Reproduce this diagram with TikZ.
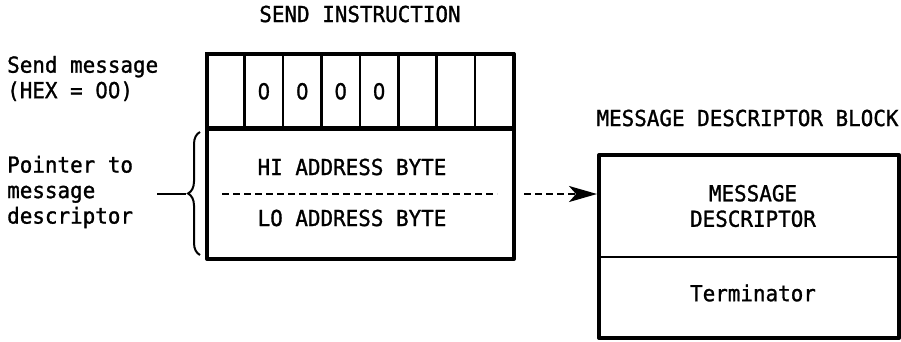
\documentclass[tikz,border=0pt]{standalone}
\usepackage{fontspec}
\newfontfamily\dfont[FakeStretch=0.95,FakeBold=1.2]{DejaVu Sans Mono}
% plain (undotted) zero for the digit fields
\newfontfamily\zfont[FakeStretch=0.9,FakeBold=1.2]{DejaVu Sans}
\newcommand{\zro}{{\zfont 0}}
\usetikzlibrary{arrows.meta,decorations.pathreplacing}
\begin{document}
\begin{tikzpicture}[x=1pt,y=-1pt,
  lbl/.style={font=\dfont\fontsize{22}{25.5}\selectfont, inner sep=0pt},
  heavy/.style={draw, line width=4pt, line join=round},
  thin/.style={draw, line width=2.2pt},
  cellbox/.style={draw, line width=2.6pt, minimum width=38.4pt, minimum height=76pt,
    anchor=north west, inner sep=0pt, font=\dfont\fontsize{22}{25.5}\selectfont}]
\useasboundingbox (0,0) rectangle (901,341);

% --- send instruction word ---
\node[lbl] (title1) at (360,14) {SEND INSTRUCTION};
% op-code bit cells
\foreach \i/\t in {0/,1/\zro,2/\zro,3/\zro,4/\zro,5/,6/,7/} {
  \node[cellbox] (bit\i) at ({205+38.4*\i},52) {\t};
}
\draw[line width=3.4pt] (205,128) -- (512,128);
% pointer bytes
\node[lbl] (hi) at (352,167) {HI ADDRESS BYTE};
\node[lbl] (lo) at (352,218) {LO ADDRESS BYTE};
\coordinate (split) at (222,194);
\coordinate (splitend) at (497,194);
\draw[line width=2pt, dash pattern=on 7pt off 4pt] (split) -- (splitend);
\node[heavy, minimum width=307pt, minimum height=205pt, anchor=north west, inner sep=0pt] (instr) at (205,52) {};

% --- labels on the left ---
\node[lbl, align=left, anchor=west] (sendmsg) at (7,78.5) {Send message\\(HEX = \zro\zro)};
\node[lbl, align=left, anchor=west] (ptr) at (7,192) {Pointer to\\message\\descriptor};
\draw[line width=2pt, decorate, decoration={brace, amplitude=12pt, aspect=0.5}]
  (200,255) -- (200,132);
\coordinate (bracetip) at (186,194);
\coordinate (tick) at (157,194);
\draw[line width=2pt] (tick) -- (bracetip);

% --- message descriptor block ---
\node[lbl] (title2) at (747.5,118) {MESSAGE DESCRIPTOR BLOCK};
\node[heavy, minimum width=300pt, minimum height=183pt, anchor=north west, inner sep=0pt] (mdb) at (597,153) {};
\coordinate (mdbl) at (597,257);
\coordinate (mdbr) at (897,257);
\draw[thin] (mdbl) -- (mdbr);
\node[lbl, align=center] (desc) at (753,206) {MESSAGE\\DESCRIPTOR};
\node[lbl] (term) at (753,293) {Terminator};

% --- pointer arrow ---
\coordinate (arrstart) at (524,194);
\draw[line width=2pt, dash pattern=on 7pt off 4pt,
  -{Stealth[length=28pt 0, width=16pt 0, inset=7pt 0]}]
  (arrstart) -- (mdb.west |- arrstart);
\end{tikzpicture}
\end{document}
